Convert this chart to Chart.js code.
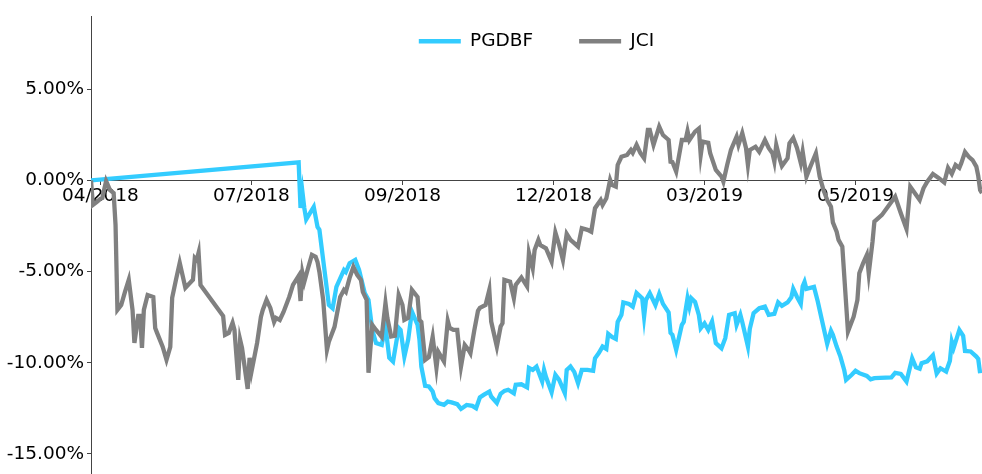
<!DOCTYPE html>
<html><head><meta charset="utf-8">
<script src="https://cdn.jsdelivr.net/npm/chart.js@4/dist/chart.umd.min.js"></script>
<style>html,body{margin:0;padding:0;background:#fff}#wrap{width:982px;height:474px}</style>
</head><body><div id="wrap"><canvas id="c" width="982" height="474"></canvas></div>
<script>
// x values: calendar days since the first observation (mid-April 2018)
const seriesNames = ['PGDBF', 'JCI'];
const pgdbfDays = [
  0,110,111,112,113,114,118,120,121,123,
  126,128,130,134,135,137,140,142,145,147,
  149,151,154,156,158,160,163,164,166,168,
  170,173,174,175,177,179,181,182,184,187,
  189,191,194,196,199,202,204,206,208,211,
  212,215,217,219,221,224,225,228,231,232,
  234,236,239,240,241,244,246,248,251,252,
  254,256,258,260,263,266,267,269,271,273,
  274,276,278,279,281,282,285,287,289,292,
  293,294,296,299,301,303,306,307,308,310,
  313,314,316,317,318,320,322,323,325,327,
  329,331,334,336,338,341,342,344,345,348,
  349,351,354,357,359,362,364,366,369,371,
  372,374,376,377,378,379,383,385,387,390,
  392,393,395,397,399,400,403,405,407,411,
  413,415,424,426,429,432,435,437,439,440,
  443,446,448,450,453,455,456,457,460,462,
  463,466,469,470,471];
const pgdbfReturns = [
  0.00,0.99,-1.51,-0.63,-1.51,-2.14,-1.45,-2.55,-2.71,-4.36,
  -6.83,-7.01,-5.84,-4.91,-5.02,-4.54,-4.36,-4.91,-6.18,-6.55,
  -8.20,-8.92,-9.02,-8.01,-9.73,-9.93,-8.09,-8.20,-9.66,-8.74,
  -7.19,-7.92,-8.74,-10.21,-11.27,-11.30,-11.58,-11.94,-12.21,-12.31,
  -12.13,-12.17,-12.27,-12.53,-12.31,-12.36,-12.49,-11.90,-11.76,-11.58,
  -11.85,-12.20,-11.70,-11.54,-11.48,-11.67,-11.21,-11.18,-11.35,-10.28,
  -10.39,-10.21,-11.03,-10.39,-10.77,-11.62,-10.66,-10.94,-11.67,-10.39,
  -10.20,-10.50,-11.12,-10.39,-10.39,-10.44,-9.75,-9.47,-9.11,-9.24,
  -8.41,-8.58,-8.69,-7.76,-7.37,-6.69,-6.77,-6.92,-6.17,-6.46,
  -7.47,-6.55,-6.18,-6.83,-6.22,-6.77,-7.24,-8.36,-8.47,-9.29,
  -7.92,-7.76,-6.46,-6.93,-6.46,-6.66,-7.37,-8.10,-7.84,-8.20,
  -7.74,-8.92,-9.20,-8.65,-7.37,-7.28,-7.92,-7.37,-7.76,-9.11,
  -8.14,-7.28,-7.01,-6.92,-7.37,-7.32,-6.69,-6.88,-6.69,-6.41,
  -5.95,-6.39,-6.77,-5.81,-5.56,-5.95,-5.84,-6.64,-7.57,-8.96,
  -8.25,-8.47,-9.11,-9.66,-10.39,-10.94,-10.66,-10.44,-10.57,-10.72,
  -10.91,-10.84,-10.80,-10.55,-10.61,-11.03,-9.76,-10.25,-10.33,-10.02,
  -9.92,-9.59,-10.59,-10.30,-10.48,-9.89,-8.84,-9.18,-8.20,-8.52,
  -9.35,-9.38,-9.66,-9.79,-10.57];
const jciDays = [
  0,1,3,5,6,8,10,12,13,14,
  16,18,20,22,23,25,26,27,28,30,
  33,34,35,38,40,42,43,45,47,50,
  52,54,55,56,57,58,70,71,73,75,
  76,78,79,80,83,84,85,88,90,91,
  93,95,97,98,100,102,104,105,107,110,
  111,112,113,115,117,119,120,121,123,125,
  126,129,132,134,135,137,139,141,143,144,
  146,147,149,151,154,156,157,159,161,163,
  165,166,168,170,173,174,175,177,179,181,
  183,184,187,189,190,192,194,196,198,200,
  201,203,205,206,209,211,212,215,217,218,
  219,222,224,225,228,231,232,234,235,237,
  238,241,244,246,248,250,252,254,256,258,
  260,263,265,267,270,271,273,275,276,278,
  279,281,284,286,287,289,291,293,295,296,
  298,301,303,306,307,308,310,313,315,316,
  317,320,322,323,324,327,328,331,334,335,
  337,339,342,343,345,347,348,349,352,354,
  357,359,361,362,363,365,366,369,370,372,
  374,376,377,379,381,384,386,388,390,392,
  393,395,396,398,401,404,406,407,409,411,
  412,414,415,419,426,429,432,434,436,439,
  441,443,446,449,452,454,456,458,460,461,
  463,465,467,469,470,471,472];
const jciReturns = [
  0.00,-1.34,-1.18,-1.01,-0.96,-0.03,-0.52,-0.69,-2.44,-7.10,
  -6.83,-6.11,-5.45,-7.10,-8.91,-7.43,-7.43,-9.18,-7.10,-6.28,
  -6.39,-8.09,-8.36,-9.13,-9.84,-9.13,-6.44,-5.45,-4.52,-5.89,
  -5.67,-5.45,-4.25,-4.36,-3.96,-5.73,-7.43,-8.47,-8.36,-7.81,
  -8.20,-10.94,-8.74,-9.18,-11.43,-9.73,-10.50,-8.91,-7.48,-7.10,
  -6.55,-6.99,-7.76,-7.54,-7.65,-7.21,-6.66,-6.39,-5.73,-5.24,
  -6.61,-5.07,-5.56,-4.80,-4.08,-4.19,-4.47,-5.02,-6.55,-9.29,
  -8.85,-8.03,-6.39,-6.00,-6.11,-5.34,-4.74,-5.18,-5.45,-6.11,
  -6.55,-10.55,-7.92,-8.20,-8.58,-6.72,-7.54,-8.56,-8.52,-6.28,
  -6.83,-7.65,-7.54,-6.00,-6.39,-7.65,-7.76,-9.84,-9.68,-8.58,
  -10.28,-9.40,-9.93,-7.70,-8.09,-8.20,-8.20,-10.21,-9.02,-9.29,
  -9.47,-8.25,-7.15,-6.99,-6.83,-6.00,-7.74,-9.11,-8.01,-7.83,
  -5.45,-5.55,-6.46,-5.73,-5.32,-5.81,-3.97,-4.81,-3.81,-3.26,
  -3.54,-3.72,-4.45,-2.85,-3.54,-4.36,-2.93,-3.26,-3.44,-3.63,
  -2.62,-2.71,-2.81,-1.52,-1.07,-1.34,-0.98,0.03,-0.25,-0.34,
  0.85,1.30,1.40,1.67,1.51,1.95,1.51,1.22,2.77,2.77,
  1.95,2.95,2.49,2.22,1.03,1.01,0.48,2.22,2.22,2.71,
  2.22,2.68,2.85,1.40,2.13,2.06,1.49,0.58,0.21,-0.07,
  0.85,1.67,2.40,1.95,2.60,1.77,0.85,1.67,1.85,1.57,
  2.22,1.78,1.49,1.03,1.95,1.12,0.79,1.22,2.04,2.33,
  1.78,0.96,1.58,0.21,0.74,1.49,0.21,-0.52,-1.07,-1.44,
  -2.30,-2.81,-3.26,-3.63,-8.29,-7.47,-6.55,-5.09,-4.54,-4.08,
  -5.09,-3.36,-2.26,-1.89,-0.89,-1.80,-2.66,-0.34,-0.63,-1.07,
  -0.43,-0.07,0.36,0.14,-0.11,0.69,0.36,0.85,0.69,0.94,
  1.56,1.30,1.12,0.76,0.25,-0.52,-0.69];
const xTickDays = [5, 85, 165, 245, 325, 405];
const xTickLabels = ['04/2018', '07/2018', '09/2018', '12/2018', '03/2019', '05/2019'];
const yTickValues = [-15, -10, -5, 0, 5];

const FONT = {family: 'DejaVu Sans', size: 18.5};
const AXIS = '#444';
const LEGEND_GAP = 46;
const toPoints = (xs, ys) => xs.map((d, i) => ({x: d, y: ys[i]}));

// The legend sits inside the plot area (like an "upper center" legend): it only
// reserves the 16px band above the plot, and its box is stretched down so the
// row is drawn (and not clipped) at the reference height.
const legendLift = {
  id: 'legendLift',
  afterLayout(chart) {
    const lg = chart.legend;
    if (lg) { lg.top = 32 - LEGEND_GAP; lg.bottom = 70; }
  }
};

new Chart(document.getElementById('c'), {
  type: 'line',
  data: {
    datasets: [
      {label: seriesNames[0], data: toPoints(pgdbfDays, pgdbfReturns), borderColor: '#33ccff', backgroundColor: '#33ccff',
       borderWidth: 4.3, pointRadius: 0, tension: 0, fill: false, order: 1},
      {label: seriesNames[1], data: toPoints(jciDays, jciReturns), borderColor: '#808080', backgroundColor: '#808080',
       borderWidth: 4.3, pointRadius: 0, tension: 0, fill: false, order: 0}
    ]
  },
  options: {
    responsive: false, devicePixelRatio: 1, animation: false,
    layout: {padding: 0},
    plugins: {
      tooltip: {enabled: false},
      legend: {
        position: 'top', fullSize: false, align: 'center', maxHeight: 16,
        labels: {usePointStyle: true, pointStyle: 'line', pointStyleWidth: 42, boxHeight: 18,
                 padding: LEGEND_GAP, color: '#000', font: FONT,
                 sort: (a, b) => a.datasetIndex - b.datasetIndex}
      }
    },
    scales: {
      x: {
        type: 'linear', min: 0, max: 472, position: {y: 0}, z: 1,
        border: {display: true, color: AXIS, width: 1},
        grid: {display: true, drawOnChartArea: false, drawTicks: true, tickLength: 4, color: AXIS},
        afterBuildTicks: s => { s.ticks = xTickDays.map(v => ({value: v})); },
        ticks: {autoSkip: false, maxRotation: 0, minRotation: 0, padding: 1, color: '#000', font: FONT,
                callback: (v, i) => xTickLabels[i]}
      },
      y: {
        type: 'linear', min: -16.1, max: 9.02, position: 'left',
        border: {display: true, color: AXIS, width: 1},
        grid: {display: true, drawOnChartArea: false, drawTicks: true, tickLength: 4, color: AXIS},
        afterBuildTicks: s => { s.ticks = yTickValues.map(v => ({value: v})); },
        afterFit: s => { s.width = 91; s.paddingTop = 0; s.paddingBottom = 0; },
        ticks: {padding: 3, color: '#000', font: FONT, callback: v => v.toFixed(2) + '%'}
      }
    }
  },
  plugins: [legendLift]
});
</script></body></html>
